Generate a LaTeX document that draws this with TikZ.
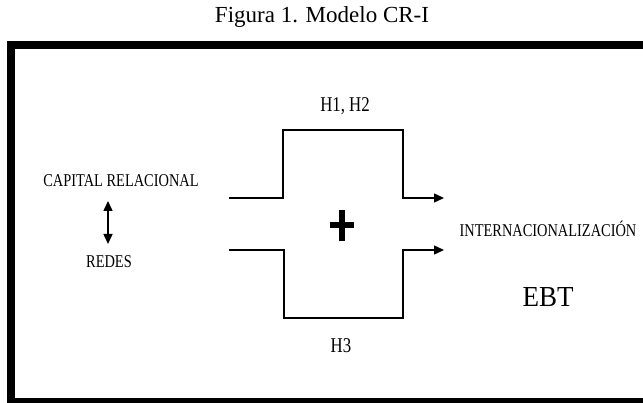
\documentclass[tikz,border=0pt]{standalone}
\usepackage{fontspec}
\setmainfont{Liberation Serif}
\newfontfamily\narrowserif[FakeStretch=0.8]{Liberation Serif}
\newfontfamily\ebtserif[FakeStretch=0.93]{Liberation Serif}
\usetikzlibrary{arrows.meta}
\begin{document}
\begin{tikzpicture}[x=1pt,y=-1pt,
  lbl/.style={inner sep=0pt,anchor=base,font=\narrowserif\fontsize{18}{18}\selectfont},
  hlbl/.style={inner sep=0pt,anchor=base,font=\narrowserif\fontsize{21}{21}\selectfont},
  flow/.style={line width=1.3pt,-{Triangle[length=10pt,width=9pt]}},
  frame/.style={line width=8pt}]
\useasboundingbox (0,0) rectangle (643,403);
\begin{scope}
\clip (0,0) rectangle (643,403);
\draw[frame] (11,45) rectangle (660,402);
\end{scope}
\node[inner sep=0pt,anchor=base,font=\fontsize{23}{23}\selectfont] (title) at (322,23) {Figura 1. Modelo CR-I};
% labels
\node[lbl] (cap) at (121,187) {CAPITAL RELACIONAL};
\node[lbl] (redes) at (109,268) {REDES};
\node[lbl] (intl) at (548,237) {INTERNACIONALIZACIÓN};
\node[inner sep=0pt,anchor=base,font=\ebtserif\fontsize{29}{29}\selectfont] (ebt) at (548,307) {EBT};
\node[hlbl] (h12) at (345,112) {H1, H2};
\node[hlbl] (h3) at (341,353) {H3};
% double arrow
\coordinate (da1) at (108,201);
\coordinate (da2) at (108,244);
\draw[line width=1.5pt,{Triangle[length=10pt,width=9pt]}-{Triangle[length=10pt,width=9pt]}] (da1) -- (da2);
% upper path
\coordinate (u0) at (229,198);
\coordinate (u1) at (283,198);
\coordinate (u2) at (283,130);
\coordinate (u3) at (403,130);
\coordinate (u4) at (403,198);
\coordinate (u5) at (444,198);
\draw[flow] (u0) -- (u1) -- (u2) -- (u3) -- (u4) -- (u5);
% lower path
\coordinate (l0) at (229,250);
\coordinate (l1) at (284,250);
\coordinate (l2) at (284,318);
\coordinate (l3) at (403,318);
\coordinate (l4) at (403,250);
\coordinate (l5) at (444,250);
\draw[flow] (l0) -- (l1) -- (l2) -- (l3) -- (l4) -- (l5);
% plus sign
\coordinate (pc) at (341.5,225.5);
\draw[line width=6pt] ([yshift=-16pt]pc) -- ([yshift=15pt]pc);
\draw[line width=6pt] ([xshift=-12pt]pc) -- ([xshift=12pt]pc);
\end{tikzpicture}
\end{document}
